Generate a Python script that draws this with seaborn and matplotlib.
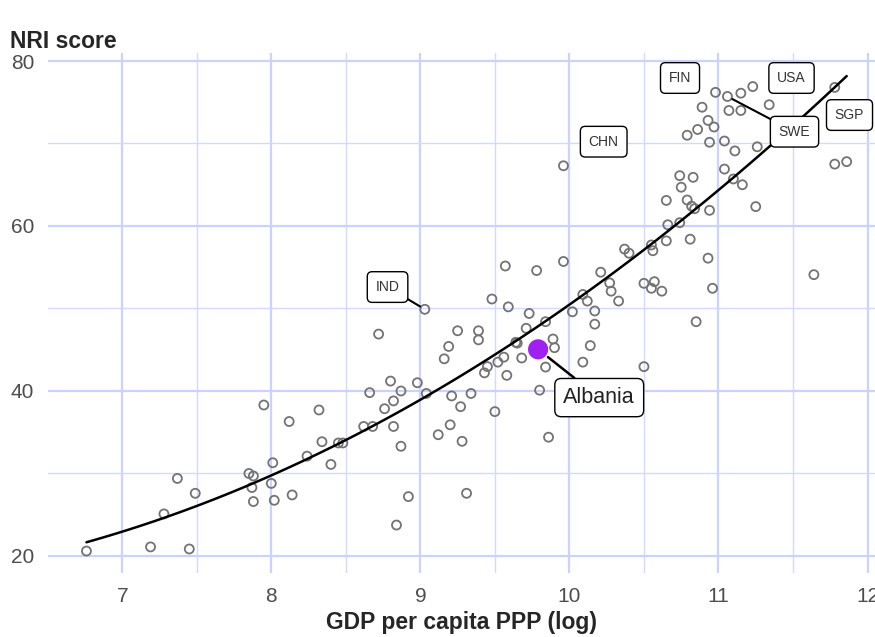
import matplotlib
matplotlib.use("Agg")
import matplotlib.pyplot as plt
import seaborn as sns
import pandas as pd
from matplotlib.ticker import MultipleLocator

# ---- data ----
gdp_log = [6.76, 7.19, 7.45, 7.28, 7.37, 7.49, 7.95, 7.85, 7.88, 7.87, 7.88, 8.00, 8.01, 8.02,
           8.12, 8.14, 8.24, 8.32, 8.34, 8.40, 8.45, 8.48, 8.62, 8.68, 8.66, 8.76, 8.80, 8.82,
           8.87, 8.82, 8.87, 8.92, 8.84, 8.98, 9.04, 9.12, 9.20, 9.21, 9.16, 9.28, 9.03, 8.72,
           9.48, 9.59, 9.57, 9.78, 9.96, 10.21, 10.27, 10.28, 10.33, 10.09, 10.12, 10.02, 10.17,
           10.17, 10.14, 10.09, 10.50, 10.50, 10.57, 10.55, 10.62, 9.73, 9.84, 9.71, 9.64, 9.65,
           9.89, 9.90, 9.68, 9.84, 9.80, 9.56, 9.52, 9.45, 9.43, 9.58, 9.39, 9.39, 9.25, 9.19,
           9.27, 9.34, 9.50, 9.86, 9.31, 9.96, 10.37, 10.40, 10.55, 10.56, 10.65, 10.81, 10.66,
           10.74, 10.65, 10.79, 10.82, 10.84, 10.94, 10.75, 10.74, 10.83, 10.93, 10.96, 11.04,
           11.10, 11.16, 11.25, 10.79, 10.86, 10.93, 10.97, 10.89, 10.94, 11.04, 11.11, 11.26,
           11.07, 11.15, 11.34, 10.98, 11.06, 11.15, 11.23, 11.78, 11.78, 11.86, 11.64, 10.85]
nri_score = [20.6, 21.1, 20.85, 25.1, 29.4, 27.6, 38.3, 30.0, 29.7, 28.3, 26.6, 28.8, 31.3, 26.75,
             36.3, 27.4, 32.1, 37.7, 33.85, 31.1, 33.7, 33.7, 35.7, 35.7, 39.8, 37.85, 41.2, 38.8,
             40.0, 35.7, 33.3, 27.2, 23.75, 41.0, 39.7, 34.7, 35.9, 39.4, 43.9, 33.9, 49.9, 46.9,
             51.15, 50.2, 55.15, 54.6, 55.7, 54.4, 53.1, 52.1, 50.9, 51.7, 50.9, 49.6, 49.7,
             48.1, 45.5, 43.5, 42.95, 53.05, 53.25, 52.45, 52.1, 49.4, 48.4, 47.6, 45.9, 45.8,
             46.3, 45.25, 44.0, 42.9, 40.1, 44.1, 43.5, 42.95, 42.2, 41.9, 47.3, 46.2, 47.3, 45.4,
             38.1, 39.7, 37.5, 34.4, 27.6, 67.3, 57.2, 56.7, 57.7, 57.0, 58.2, 58.4, 60.15,
             60.4, 63.1, 63.15, 62.4, 62.1, 61.9, 64.7, 66.1, 65.9, 56.1, 52.45, 66.9,
             65.7, 65.0, 62.35, 71.0, 71.7, 72.8, 72.0, 74.4, 70.15, 70.3, 69.1, 69.6,
             74.0, 74.0, 74.7, 76.2, 75.7, 76.1, 76.9, 76.8, 67.5, 67.8, 54.1, 48.4]

highlight_country = ["Albania"]
highlight_gdp = [9.79]
highlight_nri = [45.05]

x_ticks = [7, 8, 9, 10, 11, 12]
y_ticks = [20, 40, 60, 80]

# ---- style ----
sns.set_theme(style="white")
grid_col = '#CAD2FF'
minor_col = '#D2D9FF'
plt.rcParams['font.family'] = ['Liberation Sans', 'DejaVu Sans']
plt.rcParams['grid.color'] = grid_col

fig = plt.figure(figsize=(8.75, 6.37), dpi=100)
ax = fig.add_axes([0.055, 0.1005, 0.945, 0.8163])

df = pd.DataFrame({"gdp": gdp_log, "nri": nri_score})

sns.regplot(data=df, x="gdp", y="nri", order=2, ci=None, scatter=False,
            line_kws=dict(color='black', lw=1.8, zorder=3), ax=ax)
sns.scatterplot(data=df, x="gdp", y="nri", marker='o', s=42,
                facecolors='none', edgecolor='#737373', linewidth=1.3, ax=ax, zorder=2)
hl = pd.DataFrame({"gdp": highlight_gdp, "nri": highlight_nri})
sns.scatterplot(data=hl, x="gdp", y="nri", s=210, color='#A020F0', edgecolor='none',
                ax=ax, zorder=4)

ax.set_xlim(6.503, 12.05)
ax.set_ylim(17.94, 80.97)
ax.set_xticks(x_ticks)
ax.set_yticks(y_ticks)
ax.xaxis.set_minor_locator(MultipleLocator(0.5))
ax.yaxis.set_minor_locator(MultipleLocator(10))
ax.tick_params(axis='both', which='major', length=5, width=1.5, color='#333333',
               labelsize=15, labelcolor='#4D4D4D', pad=5)
ax.tick_params(which='minor', length=0)
ax.grid(which='major', color=grid_col, lw=1.6)
ax.grid(which='minor', color=minor_col, lw=1.0)
ax.set_axisbelow(True)
for s in ax.spines.values():
    s.set_visible(False)
ax.set_xlabel('GDP per capita PPP (log)', fontsize=16.5, fontweight='bold', labelpad=4)
ax.set_ylabel('')
fig.text(0.011, 0.924, 'NRI score', fontsize=16.5, fontweight='bold', ha='left', va='baseline')

box = dict(boxstyle='round,pad=0.6,rounding_size=0.35', fc='white', ec='black', lw=1.0)
seg = dict(arrowstyle='-', color='black', lw=1.5, shrinkA=0, shrinkB=4)
fs = 10

# labels without segments
ax.text(10.742, 77.94, 'FIN', fontsize=fs, color='#333333', ha='center', va='center', bbox=box, zorder=6)
ax.text(11.49, 77.94, 'USA', fontsize=fs, color='#333333', ha='center', va='center', bbox=box, zorder=6)
ax.text(11.879, 73.45, 'SGP', fontsize=fs, color='#333333', ha='center', va='center', bbox=box, zorder=6)
ax.text(10.23, 70.22, 'CHN', fontsize=fs, color='#333333', ha='center', va='center', bbox=box, zorder=6)
# labels with segments
ax.annotate('SWE', xy=(11.06, 75.7), xytext=(11.51, 71.43), fontsize=fs, color='#333333',
            ha='center', va='center', bbox=box, arrowprops=seg, zorder=6)
ax.annotate('IND', xy=(9.03, 49.9), xytext=(8.78, 52.6), fontsize=fs, color='#333333',
            ha='center', va='center', bbox=box, arrowprops=seg, zorder=6)
ax.annotate(highlight_country[0], xy=(highlight_gdp[0], highlight_nri[0]), xytext=(10.20, 39.2),
            fontsize=15.5, color='#222222', ha='center', va='center',
            bbox=dict(boxstyle='round,pad=0.4,rounding_size=0.3', fc='white', ec='black', lw=1.0),
            arrowprops=dict(arrowstyle='-', color='black', lw=1.8, shrinkA=0, shrinkB=9), zorder=6)

fig.savefig('out.png', dpi=100)
